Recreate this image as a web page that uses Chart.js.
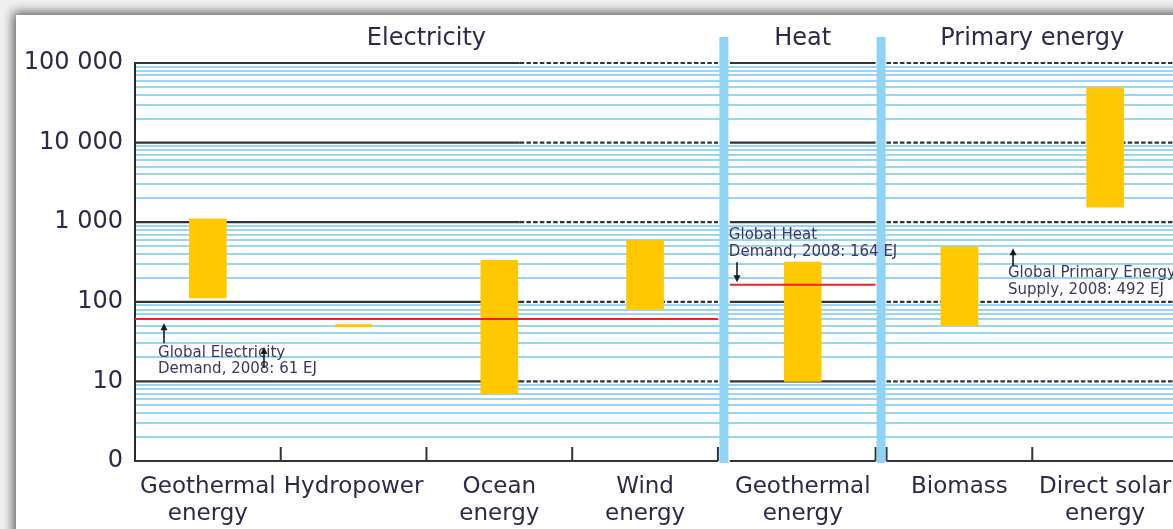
<!DOCTYPE html>
<html><head><meta charset="utf-8">
<script src="https://cdn.jsdelivr.net/npm/chart.js@4.4.1/dist/chart.umd.min.js"></script>
<style>
html,body{margin:0;padding:0;width:1173px;height:529px;overflow:hidden;background:#f0f0f0;}
#card{position:absolute;left:16px;top:15px;width:1300px;height:620px;background:#fff;box-shadow:-3px -3px 10px rgba(0,0,0,0.6);}
#wrap{position:absolute;left:0;top:0;width:1260px;height:529px;}
</style></head><body>
<div id="card"></div>
<div id="wrap"><canvas id="c"></canvas></div>
<script>
// ---------------- data ----------------
const categories = [['Geothermal','energy'],['Hydropower'],['Ocean','energy'],['Wind','energy'],['Geothermal','energy'],['Biomass'],['Direct solar','energy']];
const sectionOf = [0,0,0,0,1,2,2];
const sections = ['Electricity','Heat','Primary energy'];
const rangeLow  = [112, null, 7,   80,  10,  50,  1550];
const rangeHigh = [1100, null, 332, 590, 315, 490, 49000];
const singleValue = [null, 50, null, null, null, null, null];
const demandValues = [61, 164, 492];
const demandLabels = [['Global Electricity','Demand, 2008: 61 EJ'],['Global Heat','Demand, 2008: 164 EJ'],['Global Primary Energy','Supply, 2008: 492 EJ']];
const yTickValues = [1,10,100,1000,10000,100000];
const yTickLabels = ['0','10','100','1 000','10 000','100 000'];

// ---------------- layout / style ----------------
const sectionOffset = [0, 0.082, 0.157];          // gap units before each section
const redLineSections = [true, true, false];
const dashStartElectricity = 2.64;                // where major grid turns dashed
const dashedSections = [false, false, true];
const textColor = '#2b2a48';
const annoColor = '#3f3563';
const FONT = "'DejaVu Sans', sans-serif";
const annoStyle = [
  {textX: 0.158, textDy: [34.3, 50.3], arrowX: 0.199, tail: 24.3, tip: 4.3},
  {textX: 4.075, textDy: [-49.5, -32.5], arrowX: 4.131, tail: -22.5, tip: -2.5},
  {textX: 5.99, textDy: [26.6, 43.6], arrowX: 6.025, tail: 19.6, tip: 1.6}
];
const extraArrow = {x: 0.885, y1: 28, y2: 49, ref: 0};

const xPos = i => i + 0.5 + sectionOffset[sectionOf[i]];
function sectionRange(s){
  const idx = sectionOf.map((v,i)=>v===s?i:-1).filter(i=>i>=0);
  return [idx[0] + sectionOffset[s], idx[idx.length-1] + 1 + sectionOffset[s]];
}
const xMax = sectionRange(sections.length-1)[1];

const allYTicks = [];
yTickValues.forEach((d,k)=>{
  if (k < yTickValues.length-1) { for (let m=1;m<=9;m++) allYTicks.push(d*m); }
  else allYTicks.push(d);
});

const barData = categories.map((c,i)=> rangeLow[i]==null ? null : {x: xPos(i), y:[rangeLow[i], rangeHigh[i]]}).filter(Boolean);
const singleData = categories.map((c,i)=> singleValue[i]==null ? null : {x: xPos(i), y: singleValue[i]}).filter(Boolean);

const datasets = [];
demandValues.forEach((v,s)=>{
  if (!redLineSections[s]) return;
  const r = sectionRange(s);
  datasets.push({type:'line', data:[{x:r[0],y:v},{x:r[1],y:v}], borderColor:'#e8242b', borderWidth:2, pointRadius:0, order:0});
});
datasets.push({type:'bar', data: barData, backgroundColor:'#ffc800', borderWidth:0, barThickness:37, order:2});
datasets.push({type:'scatter', data: singleData, pointStyle:'line', pointRadius:18.5, borderColor:'#ffc800', borderWidth:3, order:1});

function arrow(ctx, x, y1, y2){
  const dir = y2 < y1 ? -1 : 1;
  ctx.save();
  ctx.strokeStyle = '#1a1a1a'; ctx.fillStyle = '#1a1a1a'; ctx.lineWidth = 1.6;
  ctx.beginPath(); ctx.moveTo(x, y1); ctx.lineTo(x, y2 - dir*5); ctx.stroke();
  ctx.beginPath(); ctx.moveTo(x, y2); ctx.lineTo(x-3.5, y2 - dir*7); ctx.lineTo(x+3.5, y2 - dir*7); ctx.closePath(); ctx.fill();
  ctx.restore();
}

const decor = {
  id:'decor',
  beforeDatasetsDraw(chart){
    const {ctx, scales:{x,y}} = chart;
    ctx.save();
    ctx.strokeStyle = '#333333'; ctx.lineWidth = 2.2;
    yTickValues.forEach(v=>{
      const py = y.getPixelForValue(v);
      sections.forEach((s,si)=>{
        const r = sectionRange(si);
        let segs;
        if (v === yTickValues[0]) segs = [[r[0], r[1], false]];
        else if (si === 0) segs = [[r[0], dashStartElectricity, false],[dashStartElectricity, r[1], true]];
        else segs = [[r[0], r[1], dashedSections[si]]];
        segs.forEach(([a,b,dashed])=>{
          ctx.setLineDash(dashed ? [4.5,2.2] : []);
          ctx.beginPath(); ctx.moveTo(x.getPixelForValue(a), py); ctx.lineTo(x.getPixelForValue(b), py); ctx.stroke();
        });
      });
    });
    ctx.setLineDash([]);
    ctx.lineWidth = 2;
    const bottom = y.getPixelForValue(yTickValues[0]);
    const tickPos = categories.map((c,i)=> i + 1 + sectionOffset[sectionOf[i]]);
    tickPos.push(sectionRange(2)[0]);
    tickPos.forEach(t=>{
      const px = x.getPixelForValue(t);
      ctx.beginPath(); ctx.moveTo(px, bottom - 14); ctx.lineTo(px, bottom); ctx.stroke();
    });
    ctx.restore();
  },
  afterDatasetsDraw(chart){
    const {ctx, scales:{x,y}, chartArea} = chart;
    ctx.save();
    ctx.fillStyle = '#8fd4f5';
    for (let s=1; s<sections.length; s++){
      const c = (sectionRange(s-1)[1] + sectionRange(s)[0]) / 2;
      const px = x.getPixelForValue(c);
      ctx.fillRect(px - 4.5, 37, 9, chartArea.bottom + 2 - 37);
    }
    ctx.fillStyle = textColor; ctx.font = "24px " + FONT; ctx.textAlign = 'center'; ctx.textBaseline = 'middle';
    sections.forEach((s,si)=>{
      const r = sectionRange(si);
      ctx.fillText(s, x.getPixelForValue((r[0]+r[1])/2), 39);
    });
    ctx.font = "15px " + FONT; ctx.textAlign = 'left'; ctx.fillStyle = annoColor;
    demandValues.forEach((v,s)=>{
      const a = annoStyle[s];
      const py = y.getPixelForValue(v);
      demandLabels[s].forEach((t,k)=> ctx.fillText(t, x.getPixelForValue(a.textX), py + a.textDy[k]));
      arrow(ctx, x.getPixelForValue(a.arrowX), py + a.tail, py + a.tip);
    });
    const py0 = y.getPixelForValue(demandValues[extraArrow.ref]);
    arrow(ctx, x.getPixelForValue(extraArrow.x), py0 + extraArrow.y2, py0 + extraArrow.y1);
    ctx.restore();
  }
};

new Chart(document.getElementById('c'), {
  type:'bar',
  data:{datasets},
  options:{
    responsive:true, maintainAspectRatio:false, animation:false,
    layout:{padding:{top:63, right:82, left:0, bottom:0}},
    plugins:{legend:{display:false}, tooltip:{enabled:false}},
    scales:{
      x:{
        type:'linear', min:0, max:xMax, offset:false,
        grid:{display:false, offset:false, drawTicks:false},
        border:{display:false},
        afterBuildTicks: s => { s.ticks = categories.map((c,i)=>({value: xPos(i)})); },
        afterFit: s => { s.height = 68; },
        ticks:{autoSkip:false, maxRotation:0, padding:13, color:textColor,
          font:{family:FONT, size:23, lineHeight:1.17},
          callback:(v,i)=> categories[i]}
      },
      y:{
        type:'logarithmic', min:yTickValues[0], max:yTickValues[yTickValues.length-1],
        afterBuildTicks: s => { s.ticks = allYTicks.map(v=>({value:v})); },
        afterFit: s => { s.width = 135; },
        grid:{drawTicks:false, lineWidth:2,
          color: c => (c.tick && yTickValues.includes(c.tick.value)) ? 'rgba(0,0,0,0)' : '#98d6f4'},
        border:{display:true, color:'#2a2a2a', width:2},
        ticks:{autoSkip:false, padding:12, color:textColor, font:{family:FONT, size:24},
          callback: v => { const i = yTickValues.indexOf(v); return i>=0 ? yTickLabels[i] : ''; }}
      }
    }
  },
  plugins:[decor]
});
</script>
</body></html>
